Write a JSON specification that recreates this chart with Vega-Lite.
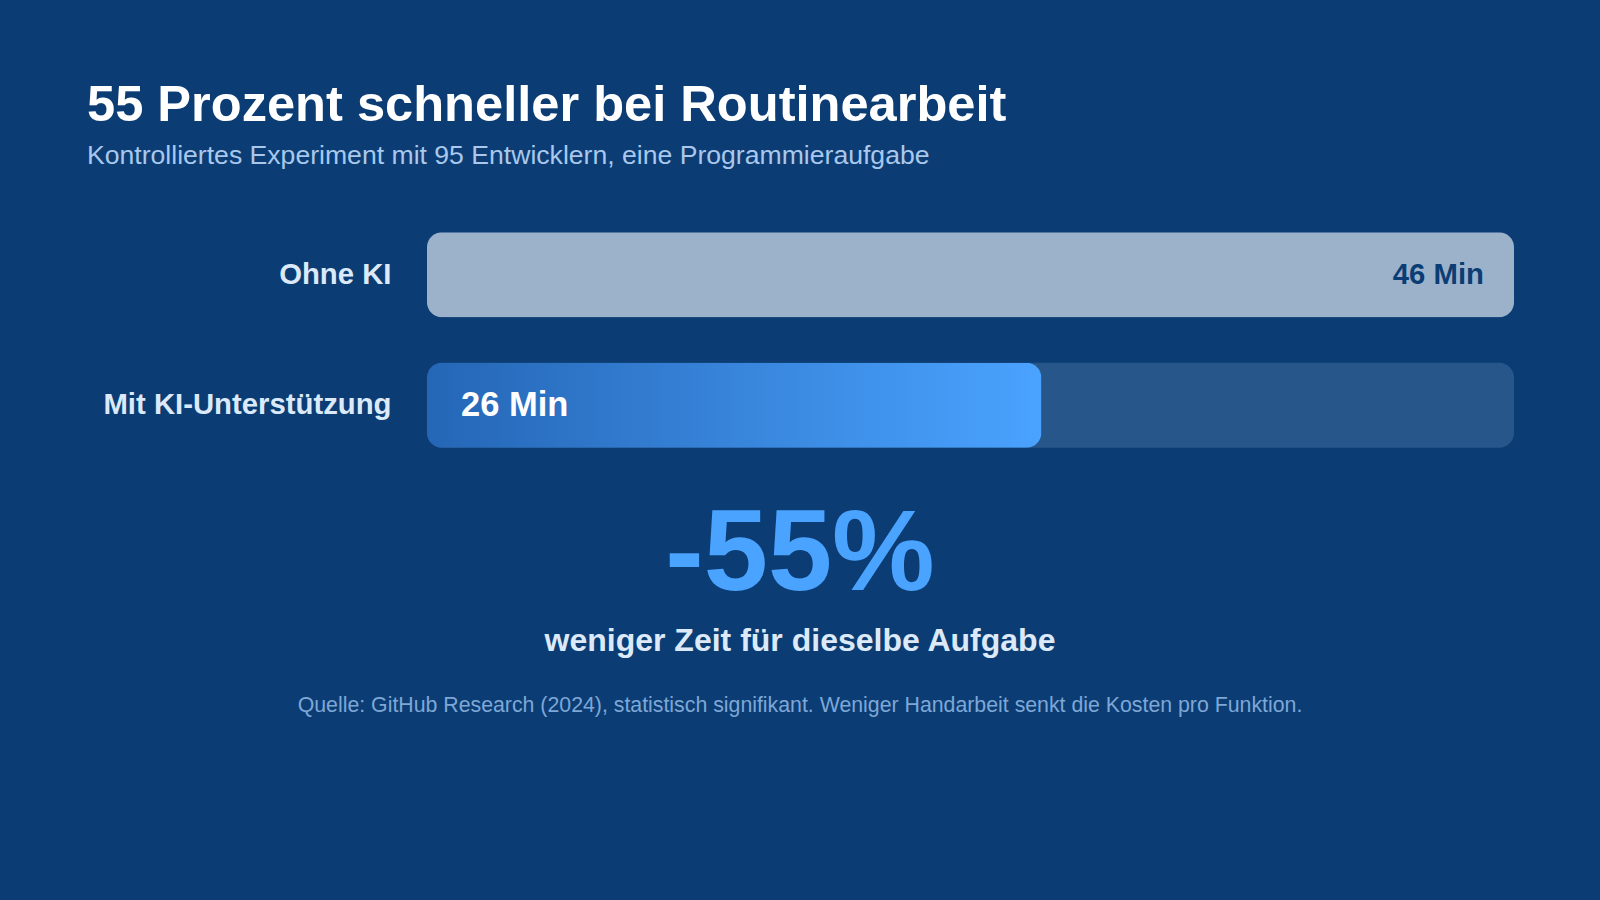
{
  "$schema": "https://vega.github.io/schema/vega-lite/v6.json",
  "autosize": {"type": "none"},
  "width": 1087,
  "height": 260.8,
  "padding": {"left": 427, "right": 86, "top": 209.6, "bottom": 429.6},
  "background": "#0b3d74",
  "config": {
    "view": {"stroke": null},
    "font": "Liberation Sans",
    "text": {"font": "Liberation Sans"}
  },
  "title": {
    "text": "55 Prozent schneller bei Routinearbeit",
    "subtitle": "Kontrolliertes Experiment mit 95 Entwicklern, eine Programmieraufgabe",
    "anchor": "start",
    "frame": "group",
    "dx": -340,
    "offset": 40,
    "font": "Liberation Sans",
    "fontSize": 50.6,
    "fontWeight": "bold",
    "color": "#ffffff",
    "subtitleFont": "Liberation Sans",
    "subtitleFontSize": 26.6,
    "subtitleColor": "#a9c8ec",
    "subtitlePadding": 11
  },
  "data": {
    "values": [
      {"gruppe": "Ohne KI", "minuten": 46, "label": "46 Min"},
      {"gruppe": "Mit KI-Unterstützung", "minuten": 26, "label": "26 Min"}
    ]
  },
  "encoding": {
    "y": {
      "field": "gruppe",
      "type": "nominal",
      "sort": null,
      "scale": {"domain": ["Ohne KI", "Mit KI-Unterstützung"], "paddingInner": 0.348, "paddingOuter": 0.174},
      "axis": {
        "title": null,
        "ticks": false,
        "domain": false,
        "labelFont": "Liberation Sans",
        "labelFontSize": 29.3,
        "labelFontWeight": "bold",
        "labelColor": "#dce9f9",
        "labelPadding": 36,
        "labelLimit": 400
      }
    }
  },
  "layer": [
    {
      "mark": {"type": "bar", "cornerRadius": 15, "fill": "#27578a"},
      "encoding": {
        "x": {"datum": 0, "type": "quantitative", "scale": {"domain": [0, 46], "nice": false, "zero": true}, "axis": null},
        "x2": {"datum": 46}
      }
    },
    {
      "transform": [{"filter": "datum.gruppe === 'Ohne KI'"}],
      "mark": {"type": "bar", "cornerRadius": 15, "fill": "#9cb2ca"},
      "encoding": {
        "x": {"field": "minuten", "type": "quantitative", "axis": null}
      }
    },
    {
      "transform": [{"filter": "datum.gruppe === 'Mit KI-Unterstützung'"}],
      "mark": {
        "type": "bar",
        "cornerRadius": 15,
        "fill": {
          "gradient": "linear",
          "x1": 0, "y1": 0, "x2": 1, "y2": 0,
          "stops": [
            {"offset": 0, "color": "#2566b6"},
            {"offset": 1, "color": "#4aa3ff"}
          ]
        }
      },
      "encoding": {
        "x": {"field": "minuten", "type": "quantitative", "axis": null}
      }
    },
    {
      "transform": [{"filter": "datum.gruppe === 'Ohne KI'"}],
      "mark": {"type": "text", "align": "right", "baseline": "middle", "dx": -30, "fontSize": 29.3, "fontWeight": "bold", "color": "#0b3d74"},
      "encoding": {
        "x": {"field": "minuten", "type": "quantitative"},
        "text": {"field": "label"}
      }
    },
    {
      "transform": [{"filter": "datum.gruppe === 'Mit KI-Unterstützung'"}],
      "mark": {"type": "text", "align": "left", "baseline": "middle", "dx": 34, "dy": 1, "fontSize": 34.5, "fontWeight": "bold", "color": "#ffffff"},
      "encoding": {
        "x": {"datum": 0, "type": "quantitative"},
        "text": {"field": "label"}
      }
    },
    {
      "data": {"values": [{"text": "-55%"}]},
      "mark": {"type": "text", "align": "center", "baseline": "alphabetic", "dx": 373, "dy": 185, "fontSize": 115.5, "fontWeight": "bold", "color": "#4aa3ff"},
      "encoding": {
        "x": {"datum": 0, "type": "quantitative"},
        "y": {"datum": "Mit KI-Unterstützung"},
        "text": {"field": "text"}
      }
    },
    {
      "data": {"values": [{"text": "weniger Zeit für dieselbe Aufgabe"}]},
      "mark": {"type": "text", "align": "center", "baseline": "alphabetic", "dx": 373, "dy": 246, "fontSize": 32, "fontWeight": "bold", "color": "#dce9f9"},
      "encoding": {
        "x": {"datum": 0, "type": "quantitative"},
        "y": {"datum": "Mit KI-Unterstützung"},
        "text": {"field": "text"}
      }
    },
    {
      "data": {"values": [{"text": "Quelle: GitHub Research (2024), statistisch signifikant. Weniger Handarbeit senkt die Kosten pro Funktion."}]},
      "mark": {"type": "text", "align": "center", "baseline": "alphabetic", "dx": 373, "dy": 307, "fontSize": 21.3, "color": "#7ea7d6"},
      "encoding": {
        "x": {"datum": 0, "type": "quantitative"},
        "y": {"datum": "Mit KI-Unterstützung"},
        "text": {"field": "text"}
      }
    }
  ]
}
